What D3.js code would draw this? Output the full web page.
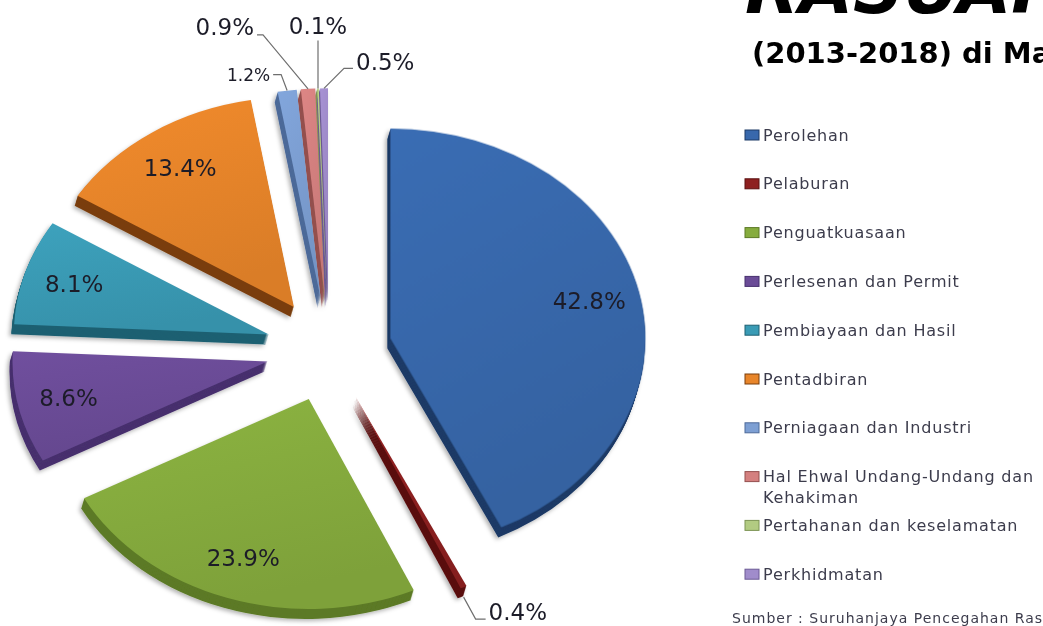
<!DOCTYPE html>
<html>
<head>
<meta charset="utf-8">
<script src="https://cdn.jsdelivr.net/npm/d3@7"></script>
<style>
  html, body { margin: 0; padding: 0; background: #ffffff; }
  svg { display: block; }
</style>
</head>
<body>
<svg id="chart" width="1043" height="626"></svg>
<script>
// ---------------- data ----------------
const categories = [
  "Perolehan",
  "Pelaburan",
  "Penguatkuasaan",
  "Perlesenan dan Permit",
  "Pembiayaan dan Hasil",
  "Pentadbiran",
  "Perniagaan dan Industri",
  "Hal Ehwal Undang-Undang dan Kehakiman",
  "Pertahanan dan keselamatan",
  "Perkhidmatan"
];
const values = [42.8, 0.4, 23.9, 8.6, 8.1, 13.4, 1.2, 0.9, 0.1, 0.5];
const valueLabels = ["42.8%", "0.4%", "23.9%", "8.6%", "8.1%", "13.4%", "1.2%", "0.9%", "0.1%", "0.5%"];
const legendLines = [
  ["Perolehan"],
  ["Pelaburan"],
  ["Penguatkuasaan"],
  ["Perlesenan dan Permit"],
  ["Pembiayaan dan Hasil"],
  ["Pentadbiran"],
  ["Perniagaan dan Industri"],
  ["Hal Ehwal Undang-Undang dan", "Kehakiman"],
  ["Pertahanan dan keselamatan"],
  ["Perkhidmatan"]
];
const titleText = "RASUAH";
const subtitleText = "(2013-2018) di Malaysia";
const sourceText = "Sumber : Suruhanjaya Pencegahan Rasuah Malaysia";

// ---------------- style ----------------
const colors = ["#3868ac", "#8e2020", "#86ac3e", "#6b4c97", "#3a9bb5", "#e8852a",
                "#7d9fd3", "#d4807f", "#b2cb82", "#a08ccb"];
const sideColors = ["#1c3a66", "#5a1010", "#5c7a26", "#47306e", "#1f6072", "#7a3e0c",
                    "#4d6a99", "#94504f", "#7d9455", "#6c5a94"];

// outside label leader layout (elbow offset from slice rim, horizontal run, font size, text shift)
const outsideLayout = {
  1: {ex: 12, ey: 22, run: 10, size: 23, ty: -7},
  6: {ex: -6, ey: -16, run: -8, size: 17},
  7: {ex: -45, ey: -54, run: -6, size: 23, ty: -8},
  8: {ex: 0, ey: -48, run: 0, size: 23, ty: -14},
  9: {ex: 20, ey: -20, run: 9, size: 23, ty: -6}
};

const svg = d3.select("#chart");
const defs = svg.append("defs");

const f = defs.append("filter").attr("id", "shadow")
  .attr("x", "-20%").attr("y", "-20%").attr("width", "140%").attr("height", "140%");
f.append("feDropShadow").attr("dx", -2).attr("dy", 2).attr("stdDeviation", 2)
  .attr("flood-color", "#000").attr("flood-opacity", 0.3);

colors.forEach((c, i) => {
  const g = defs.append("linearGradient").attr("id", "grad" + i)
    .attr("x1", 0).attr("y1", 0).attr("x2", 0.35).attr("y2", 1);
  g.append("stop").attr("offset", "0%").attr("stop-color", d3.color(c).brighter(0.12));
  g.append("stop").attr("offset", "100%").attr("stop-color", d3.color(c).darker(0.18));
});

// ---------------- pie geometry ----------------
const cx = 329, cy = 350;          // pie centre
const R = 255;                     // horizontal radius
const k = 0.823;                   // vertical squash (tilt)
const explode = 63;
const depth = 10;
const sideDx = -0.3;

const pie = d3.pie().sort(null).value(d => d);
const arcs = pie(values);
const arc = d3.arc().innerRadius(0).outerRadius(R);

const slices = svg.append("g");
arcs.forEach((a, i) => {
  const mid = (a.startAngle + a.endAngle) / 2;
  a.mid = mid;
  a.apex = [cx + explode * Math.sin(mid), cy - explode * Math.cos(mid) * k];
});

// sides first
const sideG = slices.append("g").attr("filter", "url(#shadow)");
arcs.forEach((a, i) => {
  const g = sideG.append("g").attr("transform", `translate(${a.apex[0]},${a.apex[1]})`);
  for (let s = depth; s >= 1; s--) {
    g.append("path")
      .attr("d", arc(a))
      .attr("transform", `translate(${sideDx * s},${s}) scale(1,${k})`)
      .attr("fill", sideColors[i]);
  }
});
// top faces
arcs.forEach((a, i) => {
  slices.append("path")
    .attr("d", arc(a))
    .attr("transform", `translate(${a.apex[0]},${a.apex[1]}) scale(1,${k})`)
    .attr("fill", `url(#grad${i})`);
});

// ---------------- labels ----------------
const labelFont = "'DejaVu Sans', sans-serif";
const labels = svg.append("g").attr("font-family", labelFont).attr("fill", "#1c1c28");
arcs.forEach((a, i) => {
  const lay = outsideLayout[i];
  if (!lay) {
    const r = 0.8 * R;
    labels.append("text")
      .attr("x", a.apex[0] + r * Math.sin(a.mid))
      .attr("y", a.apex[1] - r * Math.cos(a.mid) * k)
      .attr("text-anchor", "middle")
      .attr("dominant-baseline", "central")
      .attr("font-size", 23)
      .text(valueLabels[i]);
  } else {
    const down = Math.cos(a.mid) < 0 ? depth : 0;
    const ax = a.apex[0] + R * Math.sin(a.mid);
    const ay = a.apex[1] - R * Math.cos(a.mid) * k + down;
    const exx = ax + lay.ex, eyy = ay + lay.ey;
    const endx = exx + lay.run;
    svg.append("path")
      .attr("d", d3.line()([[ax, ay], [exx, eyy], [endx, eyy]]))
      .attr("fill", "none").attr("stroke", "#6e6e6e").attr("stroke-width", 1.2);
    const anchor = lay.run > 0 ? "start" : (lay.run < 0 ? "end" : "middle");
    const gap = lay.run > 0 ? 3 : (lay.run < 0 ? -3 : 0);
    labels.append("text")
      .attr("x", endx + gap)
      .attr("y", eyy + (lay.ty || 0))
      .attr("text-anchor", anchor)
      .attr("dominant-baseline", "central")
      .attr("font-size", lay.size)
      .text(valueLabels[i]);
  }
});

// ---------------- title ----------------
svg.append("text")
  .attr("x", 745).attr("y", 13)
  .attr("font-family", labelFont).attr("font-weight", "bold").attr("font-style", "italic")
  .attr("font-size", 70).attr("fill", "#000")
  .text(titleText);
svg.append("text")
  .attr("x", 752).attr("y", 63)
  .attr("font-family", labelFont).attr("font-weight", "bold")
  .attr("font-size", 29).attr("fill", "#000")
  .text(subtitleText);

// ---------------- legend ----------------
const legend = svg.append("g").attr("font-family", labelFont).attr("font-size", 16)
  .attr("letter-spacing", 0.8).attr("fill", "#3c3c4c");
const legY0 = 135, legStep = 48.8;
legendLines.forEach((lines, i) => {
  const y = legY0 + i * legStep;
  legend.append("rect")
    .attr("x", 745).attr("y", y - 5).attr("width", 14).attr("height", 10)
    .attr("fill", colors[i]).attr("stroke", sideColors[i]).attr("stroke-width", 1);
  lines.forEach((t, j) => {
    legend.append("text")
      .attr("x", 763).attr("y", y + j * 21)
      .attr("dominant-baseline", "central")
      .text(t);
  });
});

svg.append("text")
  .attr("x", 732).attr("y", 623)
  .attr("font-family", labelFont).attr("font-size", 14).attr("letter-spacing", 1)
  .attr("fill", "#3c3c4c")
  .text(sourceText);
</script>
</body>
</html>
